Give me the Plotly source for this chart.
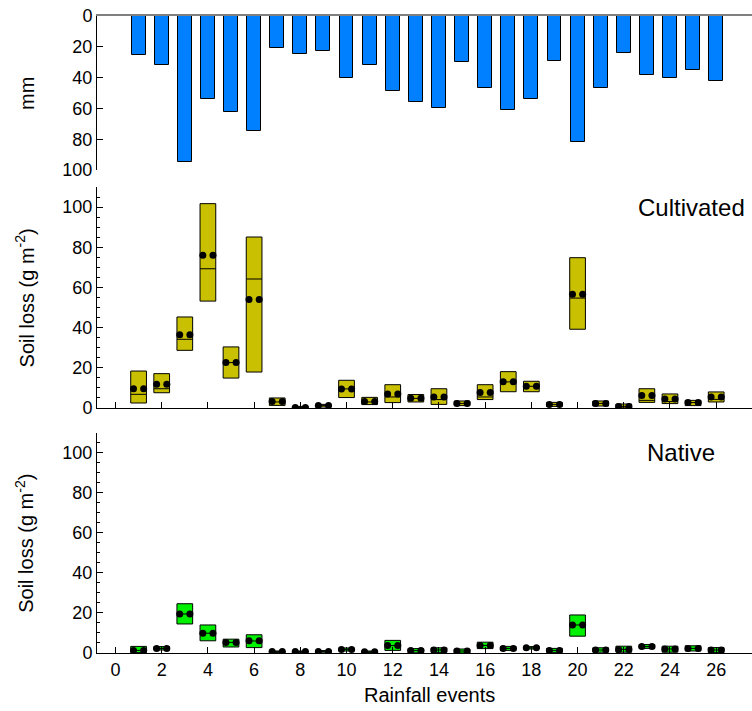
import plotly.graph_objects as go

events = list(range(1, 27))
rain_mm = [25, 32, 95, 54, 62, 74.5, 21, 24.5, 23, 40, 32, 49, 56, 60, 30, 47, 61, 54, 29, 82, 47, 24, 38, 40, 35, 42]

cult_q1 = [2.5, 7.6, 28.7, 53.2, 14.9, 17.9, 1.3, 0.0, 0.5, 5.2, 1.7, 2.7, 3.0, 1.8, 1.2, 4.2, 8.1, 8.1, 0.8, 39.2, 1.0, 0.0, 2.8, 2.2, 1.2, 3.0]
cult_med = [6.8, 9.6, 34.2, 69.3, 22.6, 64.2, 3.0, 0.2, 1.2, 9.5, 3.0, 5.5, 4.8, 4.2, 2.3, 5.5, 13.0, 10.8, 1.8, 54.7, 2.3, 0.8, 3.8, 3.2, 2.7, 4.3]
cult_q3 = [18.4, 17.1, 45.3, 101.7, 30.4, 85.1, 5.0, 0.8, 1.8, 13.8, 5.3, 11.6, 6.7, 9.6, 3.5, 11.6, 18.1, 13.3, 2.8, 74.8, 3.5, 2.0, 9.6, 7.0, 3.8, 8.0]
cult_mean = [9.6, 11.8, 36.5, 76.0, 22.6, 54.0, 3.2, 0.2, 1.2, 9.5, 3.2, 7.0, 4.8, 5.5, 2.3, 7.7, 13.1, 10.8, 1.8, 56.6, 2.3, 0.8, 6.2, 4.5, 2.7, 5.5]

nat_q1 = [0.2, 1.5, 14.5, 6.1, 3.0, 2.7, 0.3, 0.3, 0.4, 1.0, 0.2, 1.3, 0.1, 0.3, 0.0, 2.2, 1.3, 2.0, 0.3, 8.4, 0.4, 0.4, 2.3, 0.4, 1.0, 0.2]
nat_med = [1.3, 2.3, 19.5, 9.9, 5.3, 6.0, 0.7, 0.7, 0.8, 1.8, 0.6, 3.7, 1.2, 1.5, 1.0, 3.8, 2.3, 2.6, 1.3, 14.0, 1.5, 1.8, 3.2, 2.0, 2.3, 1.5]
nat_q3 = [3.3, 3.2, 24.6, 14.0, 6.9, 9.1, 1.0, 1.0, 1.2, 2.5, 1.0, 6.3, 2.2, 2.6, 2.0, 5.4, 3.3, 3.2, 2.3, 19.0, 2.6, 3.4, 4.2, 3.4, 3.6, 2.7]
nat_mean = [1.3, 2.3, 19.5, 9.9, 5.3, 6.1, 0.7, 0.7, 0.8, 1.8, 0.6, 3.7, 1.2, 1.5, 1.0, 3.8, 2.3, 2.6, 1.3, 14.0, 1.5, 1.8, 3.2, 2.0, 2.3, 1.5]

x_ticks = list(range(0, 27, 2))
rain_ticks = [0, 20, 40, 60, 80, 100]
loss_ticks = [0, 20, 40, 60, 80, 100]

BLUE = "#0080FF"
OLIVE = "#C8C000"
GREEN = "#00F000"
FONT = "Liberation Sans, Arial, sans-serif"
DOT_OFF = 0.22

fig = go.Figure()

fig.add_trace(go.Bar(x=events, y=rain_mm, width=0.6, xaxis="x", yaxis="y",
                     marker=dict(color=BLUE, line=dict(color="black", width=1)),
                     showlegend=False))


def add_boxes(q1, med, q3, mean, color, xa, ya):
    fig.add_trace(go.Box(x=events, q1=q1, median=med, q3=q3, lowerfence=q1, upperfence=q3,
                         width=0.68, fillcolor=color, line=dict(color="black", width=1),
                         boxpoints=False, xaxis=xa, yaxis=ya, showlegend=False, whiskerwidth=0))
    dx = [e - DOT_OFF for e in events] + [e + DOT_OFF for e in events]
    dy = list(mean) + list(mean)
    fig.add_trace(go.Scatter(x=dx, y=dy, mode="markers", xaxis=xa, yaxis=ya,
                             marker=dict(color="black", size=7), showlegend=False))


add_boxes(cult_q1, cult_med, cult_q3, cult_mean, OLIVE, "x2", "y2")
add_boxes(nat_q1, nat_med, nat_q3, nat_mean, GREEN, "x3", "y3")

XR = [-0.8, 27.55]
tickfont = dict(family=FONT, size=18, color="black")

yax_common = dict(showline=True, linecolor="black", linewidth=1, ticks="inside", ticklen=6,
                  tickcolor="black", showgrid=False, zeroline=False, tickfont=tickfont)

fig.update_layout(
    width=752, height=711,
    margin=dict(l=97, r=0, t=16, b=58),
    paper_bgcolor="white", plot_bgcolor="white",
    font=dict(family=FONT, color="black"),
    bargap=0,
    xaxis=dict(domain=[0, 1], anchor="y", range=XR, side="top", showline=True, linecolor="#808080",
               linewidth=2, showticklabels=False, ticks="", showgrid=False, zeroline=False),
    yaxis=dict(domain=[0.7582, 1], range=[100, 0], tickvals=rain_ticks, **yax_common),
    xaxis2=dict(domain=[0, 1], anchor="y2", range=XR, showline=True, linecolor="black", linewidth=1,
                ticks="inside", ticklen=6, tickcolor="black", tickvals=x_ticks, showticklabels=False,
                showgrid=False, zeroline=False),
    yaxis2=dict(domain=[0.3846, 0.7316], anchor="x2", range=[0, 110], tickvals=loss_ticks,
                minor=dict(dtick=5, ticks="inside", ticklen=3, tickcolor="black", showgrid=False),
                **yax_common),
    xaxis3=dict(domain=[0, 1], anchor="y3", range=XR, showline=True, linecolor="black", linewidth=1,
                ticks="inside", ticklen=6, tickcolor="black", tickvals=x_ticks, tickfont=tickfont,
                showgrid=False, zeroline=False),
    yaxis3=dict(domain=[0, 0.3458], anchor="x3", range=[0, 110], tickvals=loss_ticks,
                minor=dict(dtick=5, ticks="inside", ticklen=3, tickcolor="black", showgrid=False),
                **yax_common),
)

title_font = dict(family=FONT, size=20, color="black")
fig.add_annotation(text="mm", xref="paper", yref="y domain", x=-0.107, y=0.5, yanchor="middle",
                   xanchor="center", textangle=-90, showarrow=False, font=title_font)
fig.add_annotation(text="Soil loss (g m<sup>-2</sup>)", xref="paper", yref="y2 domain", x=-0.11, y=0.5,
                   xanchor="center", yanchor="middle", textangle=-90, showarrow=False, font=title_font)
fig.add_annotation(text="Soil loss (g m<sup>-2</sup>)", xref="paper", yref="y3 domain", x=-0.11, y=0.5,
                   xanchor="center", yanchor="middle", textangle=-90, showarrow=False, font=title_font)
fig.add_annotation(text="Rainfall events", xref="paper", yref="paper", x=0.508, y=-0.066,
                   xanchor="center", yanchor="middle", showarrow=False, font=title_font)
fig.add_annotation(text="Cultivated", xref="paper", yref="y2", x=0.823, y=100, xanchor="left",
                   yanchor="middle", showarrow=False, font=dict(family=FONT, size=24, color="black"))
fig.add_annotation(text="Native", xref="paper", yref="y3", x=0.836, y=100, xanchor="left",
                   yanchor="middle", showarrow=False, font=dict(family=FONT, size=24, color="black"))

fig.write_html("out.html", config={"displayModeBar": False},
               post_script="document.body.style.margin='0px';document.body.style.overflow='hidden';")
